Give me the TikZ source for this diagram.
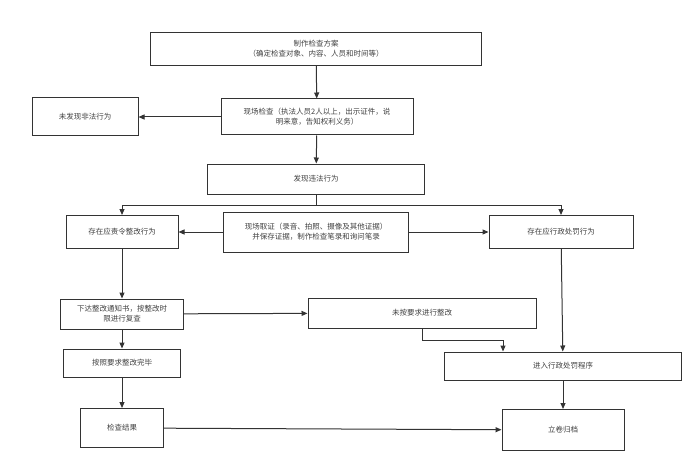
\documentclass[tikz,border=0pt]{standalone}
\usepackage{fontspec}
\setmainfont{Noto Sans CJK SC}
\usetikzlibrary{arrows.meta}
\tikzset{
  box/.style={draw=black!80, line width=1pt, align=center, inner sep=1pt,
    font=\fontsize{7.5}{10}\selectfont, text=black!75},
  flow/.style={draw=black!80, line width=1pt, -{Triangle[length=6pt,width=5pt]}}
}
\begin{document}
\begin{tikzpicture}[x=1pt,y=-1pt]
\useasboundingbox (0,0) rectangle (700,473);

% boxes
\node[box, minimum width=331, minimum height=33] (plan) at (316,49)
  {制作检查方案\\（确定检查对象、内容、人员和时间等）};
\node[box, minimum width=192, minimum height=36] (site) at (317,117)
  {现场检查（执法人员2人以上，出示证件，说\\明来意，告知权利义务）};
\node[box, minimum width=106, minimum height=38] (none) at (85,117) {未发现非法行为};
\node[box, minimum width=217, minimum height=30] (found) at (316,179) {发现违法行为};
\node[box, minimum width=112, minimum height=33] (fix) at (122,232) {存在应责令整改行为};
\node[box, minimum width=185, minimum height=40] (evid) at (316,232)
  {现场取证（录音、拍照、摄像及其他证据）\\并保存证据，制作检查笔录和询问笔录};
\node[box, minimum width=144, minimum height=33] (pun) at (561,232) {存在应行政处罚行为};
\node[box, minimum width=123, minimum height=30] (notice) at (122,314)
  {下达整改通知书，按整改时\\限进行复查};
\node[box, minimum width=228, minimum height=30] (notfix) at (422,313) {未按要求进行整改};
\node[box, minimum width=117, minimum height=28] (done) at (122,363) {按照要求整改完毕};
\node[box, minimum width=237, minimum height=28] (proc) at (563,366) {进入行政处罚程序};
\node[box, minimum width=83, minimum height=39] (result) at (122,428) {检查结果};
\node[box, minimum width=122, minimum height=41] (file) at (563,430) {立卷归档};

% connectors
\draw[flow] (plan) -- (site);
\draw[flow] (site) -- (none);
\draw[flow] (site) -- (found);
\draw[draw=black!80, line width=1pt] (found.south) -- ++(0,11) coordinate (split);
\draw[flow] (split) -| (fix);
\draw[flow] (split) -| (pun);
\draw[flow] (evid) -- (fix);
\draw[flow] (evid) -- (pun);
\draw[flow] (fix) -- (notice);
\draw[flow] (notice) -- (notfix);
\draw[flow] (notice) -- (done);
\draw[flow] (notfix.south) -- ++(0,12) -| ([xshift=-60pt]proc.north);
\draw[flow] (pun) -- (proc);
\draw[flow] (done) -- (result);
\draw[flow] (result) -- (file);
\draw[flow] (proc) -- (file);

\end{tikzpicture}
\end{document}
